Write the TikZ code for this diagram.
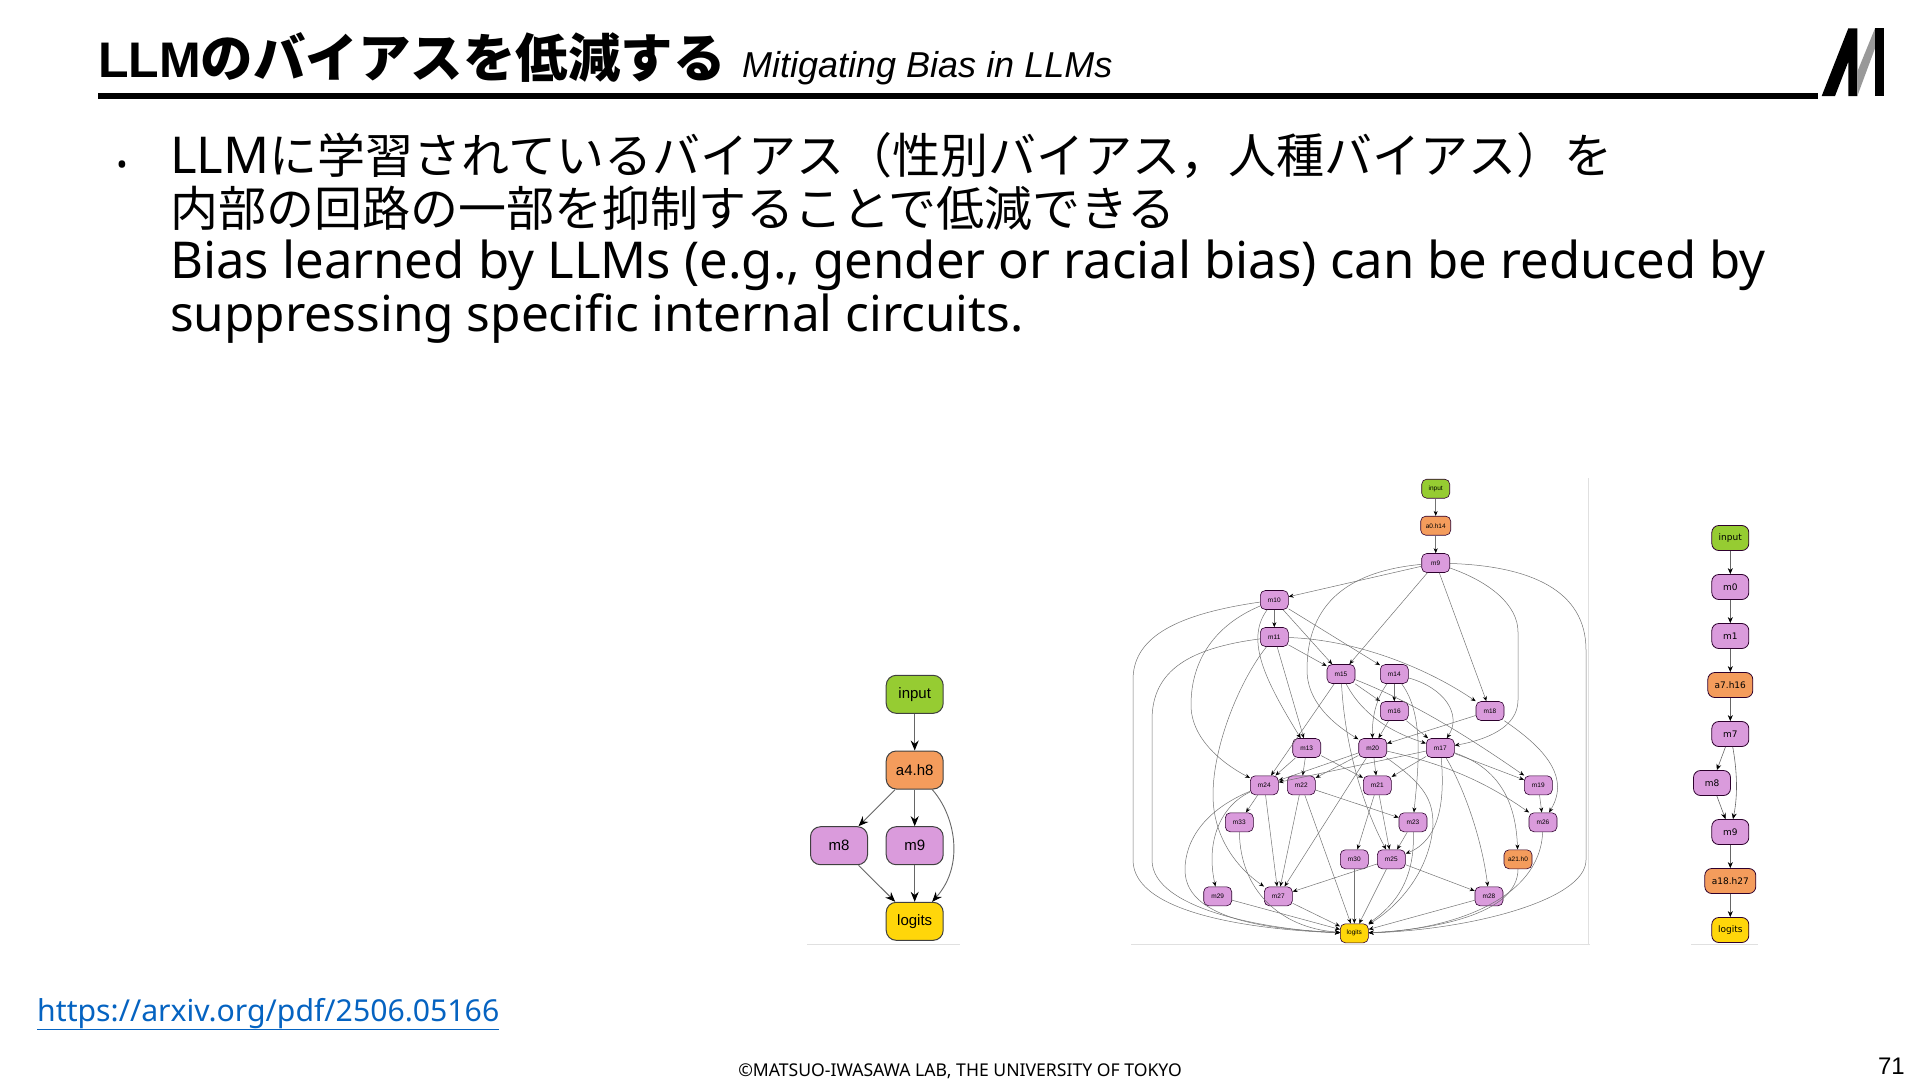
\documentclass[tikz,border=0pt]{standalone}
\usepackage{fontspec}
\usetikzlibrary{arrows.meta}
\setmainfont{Noto Sans}
\setsansfont{Liberation Sans}
\newfontfamily\cjk{Noto Sans CJK JP}
\newfontfamily\dejavu{DejaVu Sans}
\newcommand{\fs}[1]{\fontsize{#1}{#1}\selectfont}
\newcommand{\ja}[1]{{\cjk\fontsize{48}{52.4}\selectfont #1}}
\definecolor{plumc}{HTML}{DA9BDC}
\definecolor{greenc}{HTML}{96CC32}
\definecolor{orangec}{HTML}{F49C5C}
\definecolor{goldc}{HTML}{FFD60A}
\definecolor{linkc}{HTML}{0563C1}
\begin{document}
\begin{tikzpicture}[x=1pt,y=-1pt,inner sep=0pt,
  cbox/.style={draw=black!65!violet,rounded corners=5pt,line width=0.6pt,minimum width=28pt,minimum height=19pt,font=\sffamily\fs{6.5}},
  lbox/.style={draw=black!75,rounded corners=10pt,line width=1pt,minimum width=57pt,minimum height=38pt,font=\sffamily\fs{15}},
  rbox/.style={draw=black!65!violet,rounded corners=7pt,line width=0.8pt,minimum width=37pt,minimum height=25pt,font=\dejavu\fs{9}},
  plumfill/.style={fill=plumc},greenfill/.style={fill=greenc},orangefill/.style={fill=orangec},goldfill/.style={fill=goldc},
  cedge/.style={draw=black!55,line width=0.5pt,-{Stealth[length=5pt,width=4pt,color=black]}},
  ledge/.style={draw=black!60,line width=0.9pt,-{Stealth[length=10pt,width=8pt,color=black]}},
  redge/.style={draw=black!60,line width=0.6pt,-{Stealth[length=6pt,width=5pt,color=black]}},
  frameline/.style={draw=black!12,line width=1pt}]
\useasboundingbox (0,0) rectangle (1920,1080);
% header
\node[anchor=base west,font=\sffamily\bfseries\fs{50}] (title) at (98,77) {LLM{\cjk\bfseries\fs{52.5}のバイアスを低減する}};
\node[anchor=base west,font=\sffamily\itshape\fs{36}] (subtitle) at (742,77) {Mitigating Bias in LLMs};
\fill (98,93) rectangle (1818,99);
\fill (1821.7,96)--(1835,96)--(1848.3,61.7)--(1848.3,96)--(1857.3,96)--(1857.3,28.3)--(1848.3,28.3)--cycle;
\fill[black!40] (1857.3,96)--(1875,48.3)--(1875,28.3)--(1857.3,71.7)--cycle;
\fill (1875,28.3) rectangle (1884,96);
% body
\node[anchor=base,font=\fs{30}] (bullet) at (122,175) {•};
\node[anchor=base west,align=left,font=\fontsize{50.8}{52.4}\selectfont] (body) at (170,331) {LLM\ja{に学習されているバイアス（性別バイアス，人種バイアス）を}\\\ja{内部の回路の一部を抑制することで低減できる}\\Bias learned by LLMs (e.g., gender or racial bias) can be reduced by\\{\fontsize{49.5}{52.4}\selectfont suppressing specific internal circuits.}};
% left graph
\draw[frameline] (807,944)--(960,944);
\node[lbox,greenfill] (linput) at (914.7,694.3) {input};
\node[lbox,orangefill] (la) at (914.7,770) {a4.h8};
\node[lbox,plumfill] (lm8) at (839,845.7) {m8};
\node[lbox,plumfill] (lm9) at (914.7,845.7) {m9};
\node[lbox,goldfill] (llogits) at (914.7,921.3) {logits};
\draw[ledge] (linput)--(la); \draw[ledge] (la)--(lm8); \draw[ledge] (la)--(lm9);
\draw[ledge] (lm8)--(llogits); \draw[ledge] (lm9)--(llogits);
\draw[ledge] (la) .. controls (955,815) and (965,865) .. (llogits);
% middle graph
\draw[frameline] (1131,944)--(1590,944); \draw[frameline] (1588,478)--(1588,944);
\node[cbox,greenfill] (cinput) at (1435.7,488.7) {input};
\node[cbox,orangefill,minimum width=30pt] (ca) at (1435.7,525.7) {a0.h14};
\node[cbox,plumfill] (cm9) at (1435.7,563) {m9};
\node[cbox,plumfill] (cm10) at (1274.3,600) {m10};
\node[cbox,plumfill] (cm11) at (1274.3,637) {m11};
\node[cbox,plumfill] (cm15) at (1341,674) {m15};
\node[cbox,plumfill] (cm14) at (1394.3,674) {m14};
\node[cbox,plumfill] (cm16) at (1394.3,711) {m16};
\node[cbox,plumfill] (cm18) at (1490,711) {m18};
\node[cbox,plumfill] (cm13) at (1306.7,748) {m13};
\node[cbox,plumfill] (cm20) at (1372.7,748) {m20};
\node[cbox,plumfill] (cm17) at (1440.3,748) {m17};
\node[cbox,plumfill] (cm24) at (1264.3,785.3) {m24};
\node[cbox,plumfill] (cm22) at (1301.3,785.3) {m22};
\node[cbox,plumfill] (cm21) at (1377.3,785.3) {m21};
\node[cbox,plumfill] (cm19) at (1538.3,785.3) {m19};
\node[cbox,plumfill] (cm33) at (1239.3,822.3) {m33};
\node[cbox,plumfill] (cm23) at (1413,822.3) {m23};
\node[cbox,plumfill] (cm26) at (1543,822.3) {m26};
\node[cbox,plumfill] (cm30) at (1354.3,859.3) {m30};
\node[cbox,plumfill] (cm25) at (1391.3,859.3) {m25};
\node[cbox,orangefill] (cb) at (1518,859.3) {a21.h0};
\node[cbox,plumfill] (cm29) at (1217.7,896.3) {m29};
\node[cbox,plumfill] (cm27) at (1278.3,896.3) {m27};
\node[cbox,plumfill] (cm28) at (1489,896.3) {m28};
\node[cbox,goldfill] (clogits) at (1354.3,933.3) {logits};
\draw[cedge] (cinput)--(ca); \draw[cedge] (ca)--(cm9); \draw[cedge] (cm9)--(cm10); \draw[cedge] (cm9)--(cm15); \draw[cedge] (cm9)--(cm18);
\draw[cedge] (cm10)--(cm11); \draw[cedge] (cm10)--(cm15); \draw[cedge] (cm10)--(cm14); \draw[cedge] (cm11)--(cm15); \draw[cedge] (cm11)--(cm13);
\draw[cedge] (cm15)--(cm16); \draw[cedge] (cm15)--(cm24); \draw[cedge] (cm14)--(cm16); \draw[cedge] (cm16)--(cm20); \draw[cedge] (cm16)--(cm17);
\draw[cedge] (cm18)--(cm20); \draw[cedge] (cm13)--(cm24); \draw[cedge] (cm13)--(cm22); \draw[cedge] (cm13)--(cm21);
\draw[cedge] (cm20)--(cm24); \draw[cedge] (cm20)--(cm22); \draw[cedge] (cm20)--(cm21); \draw[cedge] (cm20)--(cm27);
\draw[cedge] (cm17)--(cm24); \draw[cedge] (cm17)--(cm21); \draw[cedge] (cm17)--(cm19);
\draw[cedge] (cm24)--(cm33); \draw[cedge] (cm24)--(cm27); \draw[cedge] (cm22)--(cm27); \draw[cedge] (cm22)--(clogits); \draw[cedge] (cm22)--(cm23);
\draw[cedge] (cm21)--(cm30); \draw[cedge] (cm21)--(cm25); \draw[cedge] (cm19)--(cm26); \draw[cedge] (cm23)--(cm25);
\draw[cedge] (cm30)--(clogits); \draw[cedge] (cm25)--(cm27); \draw[cedge] (cm25)--(clogits); \draw[cedge] (cm25)--(cm28);
\draw[cedge] (cm29)--(clogits); \draw[cedge] (cm27)--(clogits); \draw[cedge] (cm28)--(clogits);
\draw[cedge] (cm9) .. controls (1340,572) and (1307,610) .. (1307,670) .. controls (1307,700) and (1330,722) .. (cm20);
\draw[cedge] (cm9) .. controls (1490,582) and (1518,605) .. (1518,632) -- (1518,700) .. controls (1518,728) and (1485,740) .. (cm17);
\draw[cedge] (cm9) .. controls (1530,566) and (1586,590) .. (1586,650) -- (1586,860) .. controls (1586,900) and (1470,930) .. (clogits);
\draw[cedge] (cm10) .. controls (1170,615) and (1133,640) .. (1133,680) -- (1133,860) .. controls (1133,915) and (1260,930) .. (clogits);
\draw[cedge] (cm11) .. controls (1190,648) and (1152,670) .. (1152,720) -- (1152,860) .. controls (1152,910) and (1270,930) .. (clogits);
\draw[cedge] (cm10) .. controls (1215,625) and (1191,660) .. (1191,705) .. controls (1191,740) and (1225,765) .. (cm24);
\draw[cedge] (cm10) .. controls (1245,640) and (1265,680) .. (cm13);
\draw[cedge] (cm11) .. controls (1240,680) and (1213,745) .. (1213,795) .. controls (1213,840) and (1240,870) .. (cm27);
\draw[cedge] (cm11) .. controls (1360,640) and (1430,670) .. (cm18);
\draw[cedge] (cm15) .. controls (1365,720) and (1400,735) .. (cm17);
\draw[cedge] (cm14) .. controls (1445,688) and (1462,715) .. (cm17);
\draw[cedge] (cm14) .. controls (1375,700) and (1372,720) .. (cm20);
\draw[cedge] (cm14) .. controls (1425,715) and (1418,770) .. (cm23);
\draw[cedge] (cm15) .. controls (1345,750) and (1365,810) .. (cm25);
\draw[cedge] (cm15) .. controls (1420,705) and (1480,745) .. (cm19);
\draw[cedge] (cm18) .. controls (1540,745) and (1572,775) .. (cm26);
\draw[cedge] (cm20) .. controls (1450,765) and (1490,785) .. (cm26);
\draw[cedge] (cm20) .. controls (1425,785) and (1433,800) .. (1433,825) .. controls (1430,870) and (1400,905) .. (clogits);
\draw[cedge] (cm17) .. controls (1445,800) and (1440,840) .. (cm25);
\draw[cedge] (cm17) .. controls (1465,790) and (1482,840) .. (cm28);
\draw[cedge] (cm17) .. controls (1505,770) and (1516,810) .. (cb);
\draw[cedge] (cm24) .. controls (1222,805) and (1205,840) .. (cm29);
\draw[cedge] (cm24) .. controls (1205,810) and (1185,840) .. (1185,870) .. controls (1185,925) and (1290,930) .. (clogits);
\draw[cedge] (cm33) .. controls (1240,890) and (1280,928) .. (clogits);
\draw[cedge] (cm23) .. controls (1415,880) and (1395,905) .. (clogits);
\draw[cedge] (cb) .. controls (1518,915) and (1430,930) .. (clogits);
\draw[cedge] (cm26) .. controls (1540,900) and (1450,930) .. (clogits);
% right graph
\draw[frameline] (1691,944)--(1758,944);
\node[rbox,greenfill] (rinput) at (1730.3,538) {input};
\node[rbox,plumfill] (rm0) at (1730.3,587) {m0};
\node[rbox,plumfill] (rm1) at (1730.3,636) {m1};
\node[rbox,orangefill,minimum width=45pt] (ra) at (1730.3,685) {a7.h16};
\node[rbox,plumfill] (rm7) at (1730.3,734) {m7};
\node[rbox,plumfill] (rm8) at (1712,783) {m8};
\node[rbox,plumfill] (rm9) at (1730.3,832) {m9};
\node[rbox,orangefill,minimum width=51pt] (rb) at (1730.3,881) {a18.h27};
\node[rbox,goldfill] (rlogits) at (1730.3,930) {logits};
\draw[redge] (rinput)--(rm0); \draw[redge] (rm0)--(rm1); \draw[redge] (rm1)--(ra); \draw[redge] (ra)--(rm7);
\draw[redge] (rm7)--(rm8); \draw[redge] (rm8)--(rm9); \draw[redge] (rm9)--(rb); \draw[redge] (rb)--(rlogits);
\draw[redge] (rm7) .. controls (1737,770) and (1738,795) .. (rm9);
% footer
\node[anchor=base west,font=\fs{30.2},text=linkc] (link) at (37,1021) {\underline{https://arxiv.org/pdf/2506.05166}};
\node[anchor=base,font=\fs{17.6}] (copyright) at (960,1076) {©MATSUO-IWASAWA LAB, THE UNIVERSITY OF TOKYO};
\node[anchor=base east,font=\sffamily\fs{24}] (pagenum) at (1905,1074) {71};
\end{tikzpicture}
\end{document}
